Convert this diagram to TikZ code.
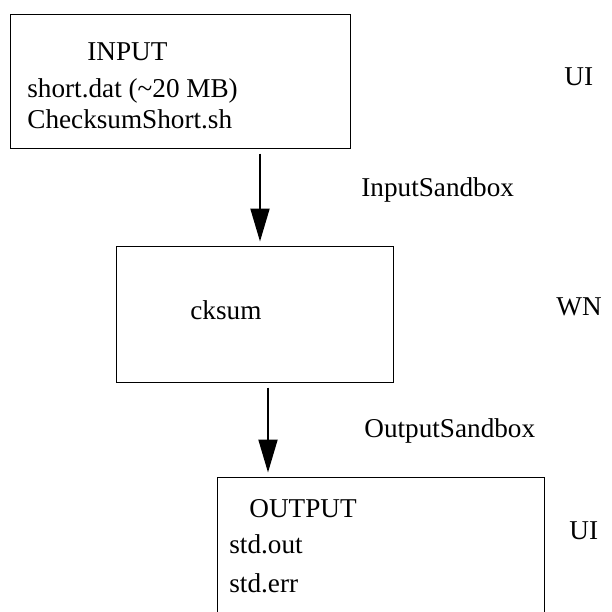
\documentclass[tikz,border=0pt]{standalone}
\usepackage{fontspec}
\setmainfont{Liberation Serif}
\usetikzlibrary{arrows.meta}
\tikzset{
  box/.style={draw=black, line width=0.5pt, rectangle, inner sep=0pt},
  txt/.style={anchor=base west, inner sep=0pt, font=\fontsize{13.6}{16}\selectfont},
  arr/.style={line width=1pt, -{Triangle[length=16.5pt,width=9.5pt]}, shorten <=2.5pt, shorten >=2pt}
}
\begin{document}
\begin{tikzpicture}[x=0.5pt,y=-0.5pt]
\useasboundingbox (0,0) rectangle (612,612);
% boxes
\node[box, minimum width=170pt, minimum height=67pt] (in) at (180,81) {};
\node[box, minimum width=138.5pt, minimum height=68pt] (wn) at (254.5,314) {};
\node[box, minimum width=163.5pt, minimum height=69pt] (out) at (380.5,546) {};
% texts in boxes
\node[txt] (t1) at (87,60) {INPUT};
\node[txt] (t2) at (27,97) {short.dat (\textasciitilde20 MB)};
\node[txt] (t3) at (27,128) {ChecksumShort.sh};
\node[txt] (t4) at (190,319) {cksum};
\node[txt] (t5) at (249,517) {OUTPUT};
\node[txt] (t6) at (229,553) {std.out};
\node[txt] (t7) at (229,592) {std.err};
% side labels
\node[txt] (ui1) at (564,85) {UI};
\node[txt] (wn1) at (556,315) {WN};
\node[txt] (ui2) at (569,539) {UI};
\node[txt] (isb) at (361,196) {InputSandbox};
\node[txt] (osb) at (364,437) {OutputSandbox};
% arrows
\coordinate (a1) at (260,0);
\coordinate (a2) at (268,0);
\draw[arr] (in.south -| a1) -- (wn.north -| a1);
\draw[arr] (wn.south -| a2) -- (out.north -| a2);
\end{tikzpicture}
\end{document}
